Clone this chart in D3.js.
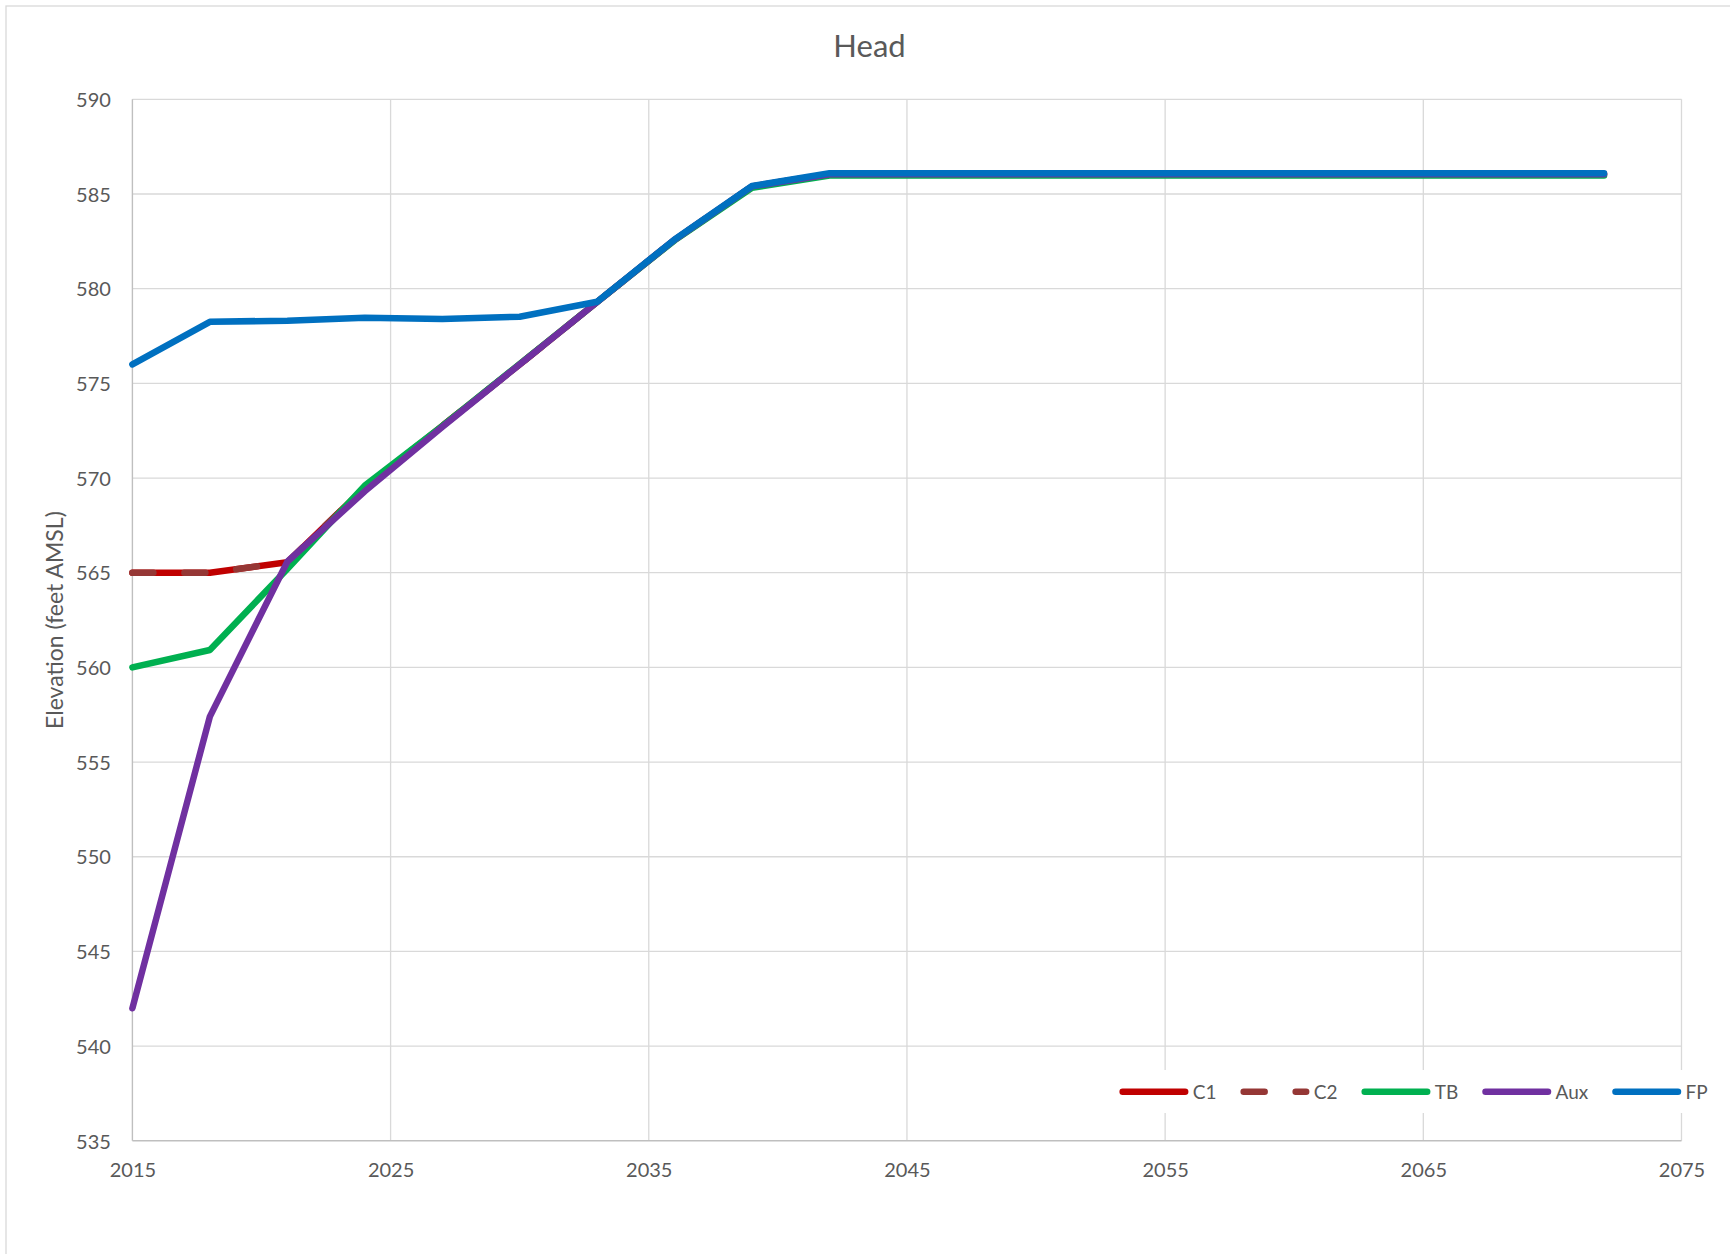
<!DOCTYPE html>
<html>
<head>
<meta charset="utf-8">
<script src="https://cdn.jsdelivr.net/npm/d3@7"></script>
<style>
  html, body { margin: 0; padding: 0; background: #ffffff; }
  svg { display: block; font-family: Lato, "Open Sans", sans-serif; }
</style>
</head>
<body>
<svg id="chart" width="1730" height="1254"></svg>
<script>
// Hydraulic head projections, one value every three years
const years = [2015, 2018, 2021, 2024, 2027, 2030, 2033, 2036, 2039, 2042,
               2045, 2048, 2051, 2054, 2057, 2060, 2063, 2066, 2069, 2072];
const seriesC1  = [565.0, 565.0, 565.55, 569.5, 572.75, 576.0, 579.3, 582.58, 585.4, 586.05,
                   586.05, 586.05, 586.05, 586.05, 586.05, 586.05, 586.05, 586.05, 586.05, 586.05];
const seriesC2  = [565.0, 565.0, 565.55, 569.5, 572.75, 576.0, 579.3, 582.58, 585.4, 586.05,
                   586.05, 586.05, 586.05, 586.05, 586.05, 586.05, 586.05, 586.05, 586.05, 586.05];
const seriesTB  = [560.0, 560.92, 565.2, 569.6, 572.75, 576.02, 579.3, 582.55, 585.33, 585.97,
                   585.97, 585.97, 585.97, 585.97, 585.97, 585.97, 585.97, 585.97, 585.97, 585.97];
const seriesAux = [542.0, 557.4, 565.58, 569.3, 572.7, 576.0, 579.3, 582.58, 585.4, 586.04,
                   586.04, 586.04, 586.04, 586.04, 586.04, 586.04, 586.04, 586.04, 586.04, 586.04];
const seriesFP  = [576.0, 578.25, 578.31, 578.47, 578.4, 578.52, 579.31, 582.6, 585.42, 586.1,
                   586.1, 586.1, 586.1, 586.1, 586.1, 586.1, 586.1, 586.1, 586.1, 586.1];

const seriesNames = ["C1", "C2", "TB", "Aux", "FP"];
const seriesColors = ["#c00000", "#953735", "#00b050", "#7030a0", "#0070c0"];
const seriesDash = [null, "21,31", null, null, null];
const seriesValues = [seriesC1, seriesC2, seriesTB, seriesAux, seriesFP];

const xTicks = [2015, 2025, 2035, 2045, 2055, 2065, 2075];
const yTicks = [535, 540, 545, 550, 555, 560, 565, 570, 575, 580, 585, 590];

const chartTitle = "Head";
const yAxisTitle = "Elevation (feet AMSL)";

const svg = d3.select("#chart");
const W = 1730, H = 1254;
const plot = { left: 132.4, right: 1681.5, top: 99.3, bottom: 1140.8 };
const textColor = "#595959";
const gridColor = "#d9d9d9";
const lineWidth = 6.5;

// chart area frame
svg.append("rect")
  .attr("x", 6).attr("y", 6)
  .attr("width", W + 20).attr("height", H + 20)
  .attr("fill", "#ffffff")
  .attr("stroke", gridColor).attr("stroke-width", 1.3);

const x = d3.scaleLinear().domain([2015, 2075]).range([plot.left, plot.right]);
const y = d3.scaleLinear().domain([535, 590]).range([plot.bottom, plot.top]);

// gridlines
const grid = svg.append("g");
grid.selectAll("line.h").data(yTicks.filter(v => v !== 535)).join("line")
  .attr("x1", plot.left).attr("x2", plot.right)
  .attr("y1", d => y(d)).attr("y2", d => y(d))
  .attr("stroke", gridColor).attr("stroke-width", 1.3);
grid.selectAll("line.v").data(xTicks.filter(v => v !== 2015)).join("line")
  .attr("x1", d => x(d)).attr("x2", d => x(d))
  .attr("y1", plot.top).attr("y2", plot.bottom)
  .attr("stroke", gridColor).attr("stroke-width", 1.3);

// axis lines
svg.append("line")
  .attr("x1", plot.left).attr("x2", plot.left)
  .attr("y1", plot.top).attr("y2", plot.bottom)
  .attr("stroke", "#bfbfbf").attr("stroke-width", 1.4);
svg.append("line")
  .attr("x1", plot.left).attr("x2", plot.right)
  .attr("y1", plot.bottom).attr("y2", plot.bottom)
  .attr("stroke", "#bfbfbf").attr("stroke-width", 1.4);

// tick labels
const yAxis = svg.append("g")
  .attr("transform", `translate(${plot.left},0)`)
  .call(d3.axisLeft(y).tickValues(yTicks).tickSize(0).tickFormat(d3.format("d")));
yAxis.select(".domain").remove();
yAxis.selectAll("text")
  .attr("x", -21.5).attr("dy", "0.36em")
  .attr("fill", textColor)
  .style("font-family", "Lato, sans-serif").style("font-size", "20px");

const xAxis = svg.append("g")
  .attr("transform", `translate(0,${plot.bottom})`)
  .call(d3.axisBottom(x).tickValues(xTicks).tickSize(0).tickFormat(d3.format("d")));
xAxis.select(".domain").remove();
xAxis.selectAll("text")
  .attr("y", 36.5).attr("dy", 0)
  .attr("fill", textColor)
  .style("font-family", "Lato, sans-serif").style("font-size", "20px");

// titles
svg.append("text")
  .attr("x", 869.5).attr("y", 57.3)
  .attr("text-anchor", "middle")
  .attr("fill", textColor)
  .style("font-size", "31px")
  .text(chartTitle);

svg.append("text")
  .attr("transform", `translate(63.3,${(plot.top + plot.bottom) / 2}) rotate(-90)`)
  .attr("text-anchor", "middle")
  .attr("fill", textColor)
  .style("font-size", "23px")
  .text(yAxisTitle);

// series lines
const line = d3.line()
  .x((d, i) => x(years[i]))
  .y(d => y(d));

const lines = svg.append("g");
seriesValues.forEach((vals, k) => {
  lines.append("path")
    .datum(vals)
    .attr("d", line)
    .attr("fill", "none")
    .attr("stroke", seriesColors[k])
    .attr("stroke-width", lineWidth)
    .attr("stroke-linecap", "round")
    .attr("stroke-linejoin", "round")
    .attr("stroke-dasharray", seriesDash[k]);
});

// legend
const legend = svg.append("g");
const legendBg = legend.append("rect")
  .attr("fill", "#ffffff");
const legendY = 1091.7;
let cursor = 1119.4;
const sample = 69, textGap = 4.3, itemPad = 24;
seriesNames.forEach((name, k) => {
  legend.append("line")
    .attr("x1", cursor + lineWidth / 2).attr("x2", cursor + sample - lineWidth / 2)
    .attr("y1", legendY).attr("y2", legendY)
    .attr("stroke", seriesColors[k])
    .attr("stroke-width", lineWidth)
    .attr("stroke-linecap", "round")
    .attr("stroke-dasharray", seriesDash[k]);
  const t = legend.append("text")
    .attr("x", cursor + sample + textGap)
    .attr("y", legendY + 6.8)
    .attr("fill", textColor)
    .style("font-size", "19px")
    .text(name);
  cursor = cursor + sample + textGap + t.node().getComputedTextLength() + itemPad;
});
legendBg
  .attr("x", 1108).attr("y", 1070)
  .attr("width", cursor - itemPad + 6 - 1108).attr("height", 43);
</script>
</body>
</html>
